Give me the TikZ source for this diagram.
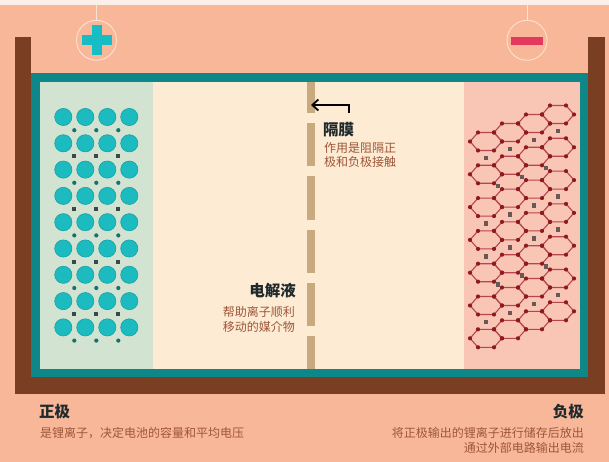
\documentclass[tikz,border=0pt]{standalone}
\usepackage{fontspec}
\setmainfont{Noto Sans CJK SC}
\usetikzlibrary{arrows.meta}

\definecolor{salmon}{HTML}{F9B79A}
\definecolor{topband}{HTML}{FCEEE8}
\definecolor{housing}{HTML}{7A3E22}
\definecolor{frame}{HTML}{0D8787}
\definecolor{cathodebg}{HTML}{D2E3D2}
\definecolor{electrolyte}{HTML}{FDEBD4}
\definecolor{anodebg}{HTML}{F9C6B6}
\definecolor{septan}{HTML}{C9A97F}
\definecolor{ringline}{HTML}{FCE2D0}
\definecolor{plusteal}{HTML}{17BDC4}
\definecolor{minusred}{HTML}{E3395E}
\definecolor{ionteal}{HTML}{1CBBC0}
\definecolor{iondark}{HTML}{14A2A6}
\definecolor{lidot}{HTML}{18706F}
\definecolor{lisq}{HTML}{3A4848}
\definecolor{bondred}{HTML}{B8454C}
\definecolor{atomred}{HTML}{8C1A20}
\definecolor{gapsq}{HTML}{6A5856}
\definecolor{headink}{HTML}{1F2A2C}
\definecolor{noteink}{HTML}{9E5638}

\begin{document}
\begin{tikzpicture}[x=1pt,y=-1pt,
    heading/.style={inner sep=0pt, text=headink, font=\fontsize{15.5pt}{18pt}\selectfont\bfseries},
    note/.style={inner sep=0pt, text=noteink, font=\fontsize{12pt}{14pt}\selectfont},
    ring/.style={draw=ringline, line width=0.9pt},
    bond/.style={draw=bondred, line width=1.1pt, line join=round},
    atom/.style={fill=atomred},
    ion/.style={fill=ionteal, draw=iondark, line width=0.6pt}]
    \useasboundingbox (0,0) rectangle (609,462);

    % case background
    \fill[salmon] (0,0) rectangle (609,462);
    \fill[topband] (0,0) rectangle (609,5);

    % brown housing: two walls and the floor
    \fill[housing] (15,37) rectangle (31,394);
    \fill[housing] (588,37) rectangle (605,394);
    \fill[housing] (15,377) rectangle (605,394);

    % teal frame with cathode / electrolyte / anode zones
    \fill[frame] (31,73) rectangle (588,377);
    \fill[cathodebg] (40,82) rectangle (153,369);
    \fill[electrolyte] (153,82) rectangle (464,369);
    \fill[anodebg] (464,82) rectangle (580,369);

    % separator, dashed membrane
    \foreach \a/\b in {82/113,123/166,176/220,230/273,283/326,336/369}
        \fill[septan] (307,\a) rectangle (315,\b);

    % terminals
    \draw[ring] (96.5,5) -- (96.5,20);
    \draw[ring] (96.5,40.3) circle [radius=20pt];
    \fill[plusteal] (81.5,35.3) rectangle (112,45.3);
    \fill[plusteal] (91.7,25) rectangle (101.7,55.5);
    \draw[ring] (527,5) -- (527,20);
    \draw[ring] (527,40.3) circle [radius=20pt];
    \fill[minusred] (511,36.7) rectangle (543,44.7);

    % cathode lattice: 9 rows x 4 ions
    \foreach \r in {0,...,8}
        \foreach \c in {0,...,3}
            \fill[ion] (63.3+22*\c,117+26.3*\r) circle (8.6pt);
    \foreach \r in {0,2,...,8}
        \foreach \c in {0,1,2}
            \fill[lidot] (74.3+22*\c,130.2+26.3*\r) circle (2.1pt);
    \foreach \r in {1,3,...,7}
        \foreach \c in {0,1,2}
            \fill[lisq] (72.3+22*\c,128.2+26.3*\r) rectangle ++(4,4);

    % anode: graphite strips, 7 strips of 4 rings
    \foreach \k in {0,...,6}
        \foreach \c in {0,...,3} {
            \pgfmathsetmacro\hx{486+24*\c}
            \pgfmathsetmacro\hy{141.5+32.8*\k-9*\c}
            \draw[bond] (\hx-16,\hy) -- (\hx-8,\hy-9) -- (\hx+8,\hy-9)
                -- (\hx+16,\hy) -- (\hx+8,\hy+9) -- (\hx-8,\hy+9) -- cycle;
        }
    \foreach \k in {0,...,6}
        \foreach \c in {0,...,3} {
            \pgfmathsetmacro\hx{486+24*\c}
            \pgfmathsetmacro\hy{141.5+32.8*\k-9*\c}
            \foreach \dx/\dy in {-16/0,-8/-9,8/-9,16/0,8/9,-8/9}
                \fill[atom] (\hx+\dx,\hy+\dy) circle (2.1pt);
        }
    % lithium held between the strips
    \foreach \k in {1,3,4,6}
        \foreach \c in {0,...,3}
            \fill[gapsq] (483.8+24*\c,139.3+32.8*\k-16.4-9*\c) rectangle ++(4.4,4.4);
    \foreach \k in {2,5}
        \foreach \c in {0,1,2}
            \fill[gapsq] (495.8+24*\c,134.8+32.8*\k-16.4-9*\c) rectangle ++(4.4,4.4);

    % separator callout
    \coordinate (tail) at (349,113);
    \coordinate (tip) at (311,105);
    \draw[line width=1.8pt, -{Straight Barb[length=6pt,width=11pt]}] (tail) |- (tip);
    \node[heading, anchor=west] (septitle) at (323,129.5) {隔膜};
    \node[note, anchor=west] (sepnoteA) at (324,147.5) {作用是阻隔正};
    \node[note, anchor=west] (sepnoteB) at (324,162) {极和负极接触};

    % electrolyte label
    \node[heading, anchor=east] (elytitle) at (296,290.5) {电解液};
    \node[note, anchor=east] (elynoteA) at (295,312) {帮助离子顺利};
    \node[note, anchor=east] (elynoteB) at (295,327) {移动的媒介物};

    % electrode captions
    \node[heading, anchor=west] (postitle) at (39,412) {正极};
    \node[note, anchor=west] (posnote) at (40,433) {是锂离子，决定电池的容量和平均电压};
    \node[heading, anchor=east] (negtitle) at (584,412) {负极};
    \node[note, anchor=east] (negnoteA) at (584,433) {将正极输出的锂离子进行储存后放出};
    \node[note, anchor=east] (negnoteB) at (584,448) {通过外部电路输出电流};
\end{tikzpicture}
\end{document}
